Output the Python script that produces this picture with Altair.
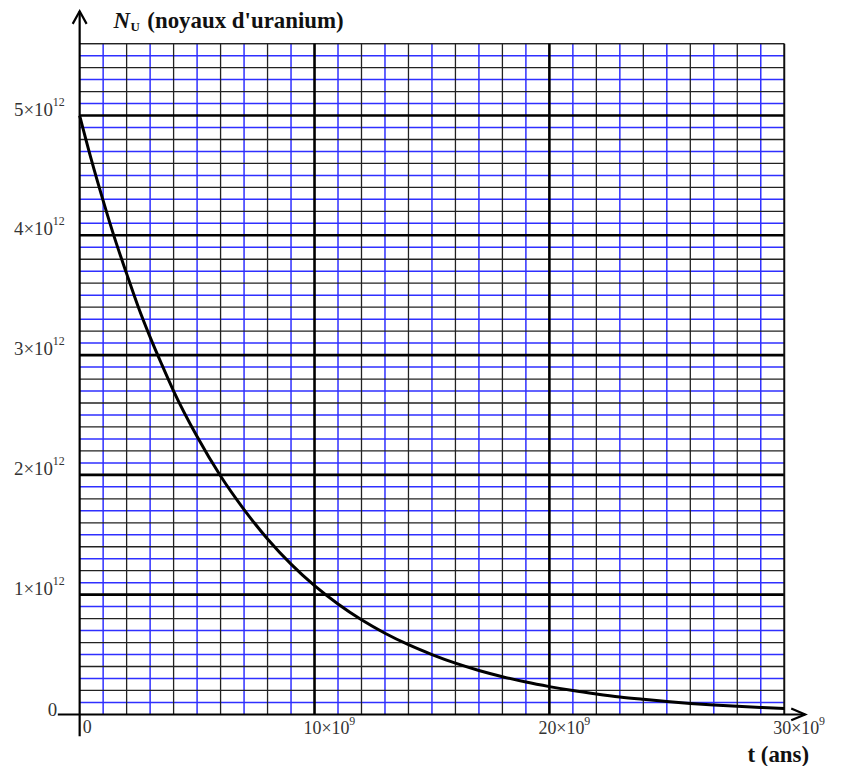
import altair as alt
import pandas as pd

# Curve: t in 10^9 years, N in 10^12 nuclei
t_vals = [0, 0.5, 1, 1.5, 2, 2.5, 3, 3.5, 4, 5, 6, 7, 8, 9, 10, 11, 12, 13, 14, 15, 16, 17, 18, 19, 20,
          21, 22, 23, 24, 25, 26, 27, 28, 29, 30]
n_vals = [5.0, 4.63, 4.29, 3.97, 3.68, 3.40, 3.15, 2.92, 2.70, 2.32, 1.99, 1.71, 1.465, 1.255, 1.075,
          0.922, 0.79, 0.678, 0.582, 0.50, 0.428, 0.367, 0.315, 0.270, 0.232,
          0.199, 0.171, 0.146, 0.126, 0.108, 0.092, 0.079, 0.068, 0.058, 0.05]

x_max = 30
y_max = 5.6

# grid positions
x_blue = [1, 3, 5, 7, 9, 11, 13, 15, 17, 19, 21, 23, 25, 27, 29]
x_black = [2, 4, 6, 8, 12, 14, 16, 18, 22, 24, 26, 28]
x_thick = [10, 20]
y_blue = [round(k / 10, 1) for k in range(1, 56, 2)]
y_black = [round(k / 10, 1) for k in range(2, 57, 2) if k % 10 != 0]
y_thick = [1, 2, 3, 4, 5]

# tick labels
y_tick_values = [1, 2, 3, 4, 5]
y_tick_base = ["1×10", "2×10", "3×10", "4×10", "5×10"]
y_tick_sup = "12"
x_tick_values = [10, 20, 30]
x_tick_base = ["10×10", "20×10", "30×10"]
x_tick_sup = "9"

xs = alt.Scale(domain=[0, x_max], nice=False, zero=False)
ys = alt.Scale(domain=[0, y_max], nice=False, zero=False)
FONT = "Liberation Serif"
BLUE = "#2f2fff"


def vrules(vals, color, width):
    df = pd.DataFrame({"x": vals, "y0": 0.0, "y1": y_max})
    return alt.Chart(df).mark_rule(color=color, strokeWidth=width, clip=False).encode(
        x=alt.X("x:Q", scale=xs, axis=None),
        y=alt.Y("y0:Q", scale=ys, axis=None),
        y2="y1:Q",
    )


def hrules(vals, color, width):
    df = pd.DataFrame({"y": vals, "x0": 0.0, "x1": x_max})
    return alt.Chart(df).mark_rule(color=color, strokeWidth=width, clip=False).encode(
        y=alt.Y("y:Q", scale=ys, axis=None),
        x=alt.X("x0:Q", scale=xs, axis=None),
        x2="x1:Q",
    )


layers = [
    vrules(x_blue, BLUE, 1.5),
    hrules(y_blue, BLUE, 1.5),
    vrules(x_black, "#222222", 1.3),
    hrules(y_black + [y_max], "#222222", 1.3),
    vrules(x_thick, "black", 2.6),
    hrules(y_thick, "black", 2.6),
    vrules([x_max], "#111111", 2),
]

curve_df = pd.DataFrame({"t": t_vals, "n": n_vals})
curve = alt.Chart(curve_df).mark_line(color="black", strokeWidth=3, interpolate="monotone").encode(
    x=alt.X("t:Q", scale=xs, axis=None),
    y=alt.Y("n:Q", scale=ys, axis=None),
)
layers.append(curve)

# axis lines with arrows (extend beyond the domain)
yaxis_df = pd.DataFrame({"x": [0.0], "y0": [-0.183], "y1": [5.87]})
yaxis = alt.Chart(yaxis_df).mark_rule(color="black", strokeWidth=2.2, clip=False).encode(
    x=alt.X("x:Q", scale=xs, axis=None), y=alt.Y("y0:Q", scale=ys, axis=None), y2="y1:Q")
xaxis_df = pd.DataFrame({"y": [0.0], "x0": [-0.93], "x1": [30.89]})
xaxis = alt.Chart(xaxis_df).mark_rule(color="black", strokeWidth=2, clip=False).encode(
    y=alt.Y("y:Q", scale=ys, axis=None), x=alt.X("x0:Q", scale=xs, axis=None), x2="x1:Q")
layers += [yaxis, xaxis]

up_arrow = alt.Chart(pd.DataFrame({"x": [0.0], "y": [5.87]})).mark_point(
    shape="M-1,1.8L0,0L1,1.8", size=196, filled=False, stroke="black", strokeWidth=2.2,
    opacity=1, clip=False).encode(
    x=alt.X("x:Q", scale=xs, axis=None), y=alt.Y("y:Q", scale=ys, axis=None))
right_arrow = alt.Chart(pd.DataFrame({"x": [30.89], "y": [0.0]})).mark_point(
    shape="M-2,-0.85L0,0L-2,0.85", size=196, filled=False, stroke="black", strokeWidth=2.2,
    opacity=1, clip=False).encode(
    x=alt.X("x:Q", scale=xs, axis=None), y=alt.Y("y:Q", scale=ys, axis=None))
layers += [up_arrow, right_arrow]

# y tick labels
ylab_df = pd.DataFrame({"v": y_tick_values, "base": y_tick_base, "sup": y_tick_sup})
ylab = alt.Chart(ylab_df).mark_text(font=FONT, fontSize=19, align="left", baseline="alphabetic",
                                     color="#333333").encode(
    x=alt.value(-66), y=alt.Y("v:Q", scale=ys, axis=None), text="base:N")
ylab_sup = alt.Chart(ylab_df).mark_text(font=FONT, fontSize=12, align="left", baseline="alphabetic",
                                         dy=-10, color="#333333").encode(
    x=alt.value(-27), y=alt.Y("v:Q", scale=ys, axis=None), text="sup:N")
y0lab = alt.Chart(pd.DataFrame({"v": [0], "t": ["0"]})).mark_text(
    font=FONT, fontSize=19, align="left", baseline="alphabetic", dy=2, color="#333333").encode(
    x=alt.value(-32), y=alt.Y("v:Q", scale=ys, axis=None), text="t:N")
layers += [ylab, ylab_sup, y0lab]

# x tick labels
xlab_df = pd.DataFrame({"v": x_tick_values, "base": x_tick_base, "sup": x_tick_sup})
xlab = alt.Chart(xlab_df).mark_text(font=FONT, fontSize=18, align="left", baseline="alphabetic",
                                     dx=-11, color="#333333").encode(
    x=alt.X("v:Q", scale=xs, axis=None), y=alt.value(694), text="base:N")
xlab_sup = alt.Chart(xlab_df).mark_text(font=FONT, fontSize=12, align="left", baseline="alphabetic",
                                         dx=35, dy=-9, color="#333333").encode(
    x=alt.X("v:Q", scale=xs, axis=None), y=alt.value(694), text="sup:N")
x0lab = alt.Chart(pd.DataFrame({"v": [0], "t": ["0"]})).mark_text(
    font=FONT, fontSize=18, align="left", baseline="alphabetic", dx=3, color="#333333").encode(
    x=alt.X("v:Q", scale=xs, axis=None), y=alt.value(693), text="t:N")
layers += [xlab, xlab_sup, x0lab]

# axis titles
title_n = alt.Chart(pd.DataFrame({"t": ["N"]})).mark_text(
    font=FONT, fontSize=23, fontWeight="bold", fontStyle="italic", align="left",
    baseline="alphabetic", color="#111111").encode(x=alt.value(34), y=alt.value(-16), text="t:N")
title_u = alt.Chart(pd.DataFrame({"t": ["U"]})).mark_text(
    font=FONT, fontSize=13, fontWeight="bold", align="left",
    baseline="alphabetic", color="#111111").encode(x=alt.value(51), y=alt.value(-13), text="t:N")
title_rest = alt.Chart(pd.DataFrame({"t": ["(noyaux d'uranium)"]})).mark_text(
    font=FONT, fontSize=23, fontWeight="bold", align="left",
    baseline="alphabetic", color="#111111").encode(x=alt.value(68), y=alt.value(-16), text="t:N")
title_t = alt.Chart(pd.DataFrame({"t": ["t (ans)"]})).mark_text(
    font=FONT, fontSize=23, fontWeight="bold", align="left",
    baseline="alphabetic", color="#111111").encode(x=alt.value(671), y=alt.value(722), text="t:N")
layers += [title_n, title_u, title_rest, title_t]

chart = alt.layer(*layers).properties(
    width=708, height=674,
    padding={"left": 72, "top": 34, "right": 53, "bottom": 50},
    autosize=alt.AutoSizeParams(type="none"),
    background="white",
).configure_view(stroke=None)

chart.save("out.html", embed_options={"renderer": "svg", "actions": False})
